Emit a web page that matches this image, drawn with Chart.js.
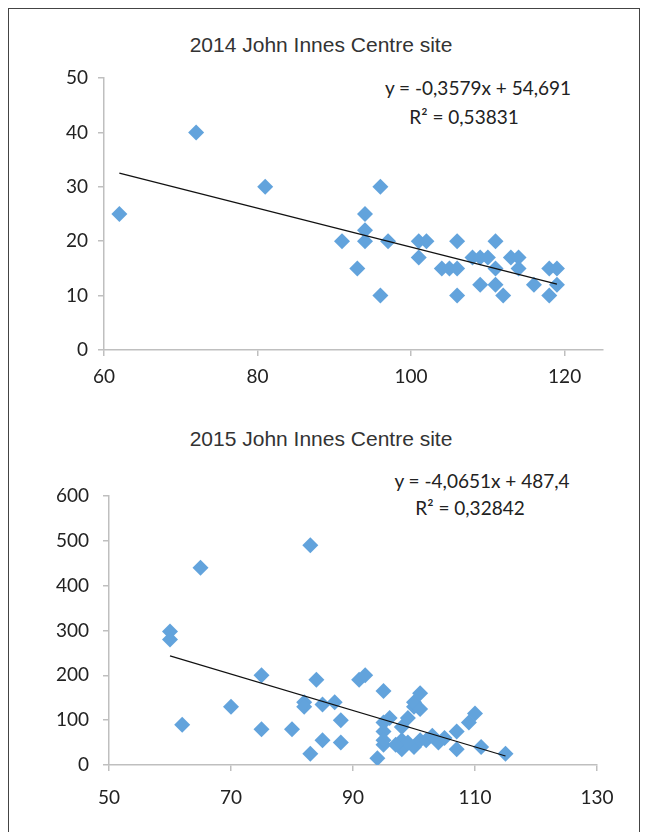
<!DOCTYPE html>
<html>
<head>
<meta charset="utf-8">
<script src="https://cdn.jsdelivr.net/npm/chart.js@4.4.1/dist/chart.umd.min.js"></script>
<style>
  body { margin: 0; background: #fff; width: 645px; height: 832px; overflow: hidden; position: relative; }
  .frame { position: absolute; left: 8px; top: 8px; width: 630px; height: 840px; border: 1.5px solid #444; }
  canvas { position: absolute; left: 0; }
  .title { position: absolute; left: 0; width: 642px; text-align: center; font-family: "Liberation Sans", sans-serif; font-size: 21px; color: #333; }
  .eq { position: absolute; text-align: center; font-family: Lato, "Open Sans", sans-serif; font-size: 19px; color: #222; white-space: nowrap; transform: translateX(-50%); }
</style>
</head>
<body>
<div class="frame"></div>

<div class="title" style="top:33px">2014 John Innes Centre site</div>
<div class="eq" style="left:478px; top:76px">y = -0,3579x + 54,691</div>
<div class="eq" style="left:464px; top:105px">R² = 0,53831</div>
<canvas id="chart2014" width="645" height="410" style="top:0"></canvas>

<div class="title" style="top:427px">2015 John Innes Centre site</div>
<div class="eq" style="left:482px; top:469px">y = -4,0651x + 487,4</div>
<div class="eq" style="left:470px; top:496px">R² = 0,32842</div>
<canvas id="chart2015" width="645" height="422" style="top:410px"></canvas>

<script>
// --- data ---
const x2014 = [62, 72, 81, 91, 93, 94, 94, 94, 96, 96, 97, 101, 101, 102, 104, 105, 106, 106, 106,
  108, 109, 109, 110, 111, 111, 111, 112, 113, 114, 114, 116, 118, 118, 119, 119];
const y2014 = [25, 40, 30, 20, 15, 25, 22, 20, 30, 10, 20, 20, 17, 20, 15, 15, 20, 15, 10,
  17, 17, 12, 17, 20, 15, 12, 10, 17, 17, 15, 12, 15, 10, 15, 12];
const trend2014X = [62, 119];
const trend2014Y = [32.5, 12.1];

const x2015 = [83, 65, 60, 60, 62, 70, 75, 75, 80, 82, 82, 84, 85, 87, 88, 85, 88, 83,
  91, 92, 95, 94, 95, 96, 95, 95, 95, 98, 98, 99, 100, 100, 101, 101, 100, 101, 98, 102,
  104, 105, 107, 109, 110, 107, 111, 115, 99, 97, 103];
const y2015 = [490, 440, 298, 280, 90, 130, 200, 80, 80, 140, 130, 190, 135, 140, 100, 55, 50, 25,
  190, 200, 165, 15, 95, 105, 75, 45, 55, 55, 85, 105, 130, 140, 125, 160, 40, 55, 35, 55,
  50, 60, 75, 95, 115, 35, 40, 25, 50, 45, 65];
const trend2015X = [60, 115];
const trend2015Y = [243.5, 20];

const xTicks2014 = { min: 60, max: 125, step: 20 };
const yTicks2014 = { min: 0, max: 50, step: 10 };
const xTicks2015 = { min: 50, max: 130, step: 20 };
const yTicks2015 = { min: 0, max: 600, step: 100 };

const POINT_COLOR = '#62a3dc';
const AXIS_COLOR = '#bfbfbf';
const tickFont = { family: 'Lato, "Open Sans", sans-serif', size: 19 };

function toPoints(xs, ys) {
  return xs.map((x, i) => ({ x: x, y: ys[i] }));
}

function axis(range, fitFn, pad) {
  return {
    type: 'linear',
    min: range.min,
    max: range.max,
    ticks: { stepSize: range.step, includeBounds: false, font: tickFont, color: '#222', padding: pad },
    grid: { drawOnChartArea: false, drawTicks: true, tickLength: 6, color: AXIS_COLOR, lineWidth: 1.5 },
    border: { display: true, color: AXIS_COLOR, width: 1.5 },
    afterFit: fitFn
  };
}

function makeChart(id, xs, ys, tx, ty, xr, yr, geo) {
  new Chart(document.getElementById(id), {
    type: 'scatter',
    data: {
      datasets: [
        {
          type: 'line',
          data: toPoints(tx, ty),
          borderColor: '#111',
          borderWidth: 1.2,
          pointRadius: 0,
          fill: false,
          order: 0
        },
        {
          data: toPoints(xs, ys),
          pointStyle: 'rectRot',
          pointRadius: 8,
          pointBackgroundColor: POINT_COLOR,
          pointBorderColor: POINT_COLOR,
          pointBorderWidth: 0,
          order: 1
        }
      ]
    },
    options: {
      responsive: false,
      animation: false,
      layout: { padding: { left: 0, top: geo.top, right: geo.right, bottom: 0 } },
      plugins: { legend: { display: false }, tooltip: { enabled: false } },
      scales: {
        x: axis(xr, s => { s.height = geo.xh; }, geo.xpad),
        y: axis(yr, s => { s.width = geo.left; }, geo.ypad)
      }
    }
  });
}

makeChart('chart2014', x2014, y2014, trend2014X, trend2014Y, xTicks2014, yTicks2014,
  { top: 78, right: 42, left: 104, xh: 60, xpad: 9, ypad: 10 });
makeChart('chart2015', x2015, y2015, trend2015X, trend2015Y, xTicks2015, yTicks2015,
  { top: 86, right: 48, left: 109, xh: 67, xpad: 15, ypad: 14 });
</script>
</body>
</html>
